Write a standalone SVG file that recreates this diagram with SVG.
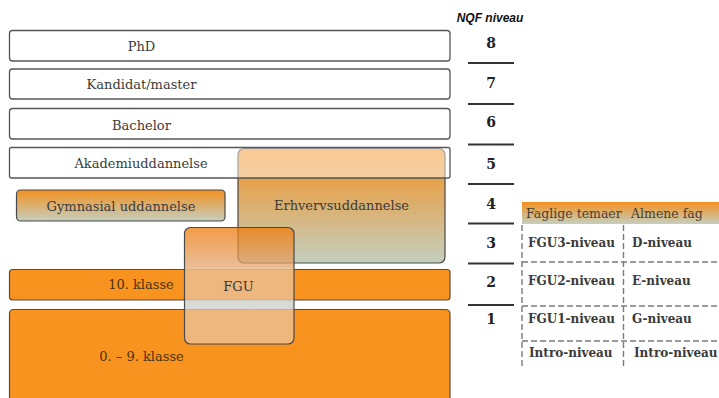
<svg xmlns="http://www.w3.org/2000/svg" width="719" height="398" viewBox="0 0 719 398">
<defs>
<style>
.lbl{font-family:"DejaVu Serif","Liberation Serif",serif;font-size:13px;fill:#3a3a3a;text-anchor:middle}
.lblo{font-family:"DejaVu Serif","Liberation Serif",serif;font-size:13px;fill:#4a3418;text-anchor:middle}
.wbox{fill:#ffffff;stroke:#555;stroke-width:1.3}
.obox{fill:#F7931E;stroke:#5a4a3a;stroke-width:1.2}
.gbox{fill:url(#og);stroke:#4a4a4a;stroke-width:1.2}
.num{font-family:"DejaVu Serif","Liberation Serif",serif;font-weight:bold;font-size:14px;fill:#222;text-anchor:middle}
.sep{stroke:#333;stroke-width:1.8}
.dash{stroke:#7a7a7a;stroke-width:1.4;stroke-dasharray:6 3;fill:none}
.tb{font-family:"DejaVu Serif","Liberation Serif",serif;font-weight:bold;font-size:12px;fill:#3a3a3a}
.th{font-family:"DejaVu Serif","Liberation Serif",serif;font-size:12.5px;fill:#4a4030}
</style>
<linearGradient id="og" x1="0" y1="0" x2="0" y2="1">
<stop offset="0" stop-color="#F39020"/>
<stop offset="1" stop-color="#C4CFBF"/>
</linearGradient>
<linearGradient id="fg" gradientUnits="userSpaceOnUse" x1="0" y1="227" x2="0" y2="344">
<stop offset="0" stop-color="#EE7A08" stop-opacity="0.75"/>
<stop offset="0.35" stop-color="#E1A56F" stop-opacity="0.72"/>
<stop offset="0.35" stop-color="#EBBD8E" stop-opacity="0.85"/>
<stop offset="0.624" stop-color="#EBBD8E" stop-opacity="0.85"/>
<stop offset="0.624" stop-color="#D2D3CE" stop-opacity="0.85"/>
<stop offset="0.70" stop-color="#D2D3CE" stop-opacity="0.85"/>
<stop offset="0.70" stop-color="#EBBD8E" stop-opacity="0.85"/>
<stop offset="1" stop-color="#EBBD8E" stop-opacity="0.85"/>
</linearGradient>
</defs>

<g id="phd"><rect class="wbox" x="9.5" y="30.5" width="440.5" height="30.5" rx="3"/><text class="lbl" x="141.5" y="51">PhD</text></g>
<g id="kandidat"><rect class="wbox" x="9.5" y="69" width="440.5" height="30" rx="3"/><text class="lbl" x="141.5" y="89">Kandidat/master</text></g>
<g id="bachelor"><rect class="wbox" x="9.5" y="108.5" width="440.5" height="30.5" rx="3"/><text class="lbl" x="141.5" y="130">Bachelor</text></g>

<g id="klasse10"><rect class="obox" x="9.5" y="269.5" width="440.5" height="30.5" rx="3"/><text class="lblo" x="141" y="289">10. klasse</text></g>
<g id="klasse09"><rect class="obox" x="9.5" y="309.5" width="440.5" height="100" rx="4"/><text class="lblo" x="141.5" y="361">0. – 9. klasse</text></g>

<g id="erhverv"><rect class="gbox" x="238" y="148.5" width="207" height="114.5" rx="6"/><text class="lbl" x="341.5" y="210">Erhvervsuddannelse</text></g>
<g id="akademi"><rect x="9.5" y="147.5" width="440.5" height="30.5" rx="2" fill="#ffffff" fill-opacity="0.5" stroke="#555" stroke-width="1.3"/><text class="lbl" x="141" y="168">Akademiuddannelse</text></g>
<g id="gymnasial"><rect class="gbox" x="16.5" y="190" width="208.5" height="31" rx="4"/><text class="lbl" x="121" y="211">Gymnasial uddannelse</text></g>

<g id="fgu"><rect x="184.5" y="227.5" width="109.5" height="116.5" rx="6" fill="url(#fg)" stroke="#4a4a4a" stroke-width="1.2"/><text class="lbl" x="238.5" y="291">FGU</text></g>

<g id="nqf">
<text x="490" y="22" font-family="Liberation Sans, Arial, sans-serif" font-size="12" font-weight="bold" font-style="italic" fill="#111" text-anchor="middle">NQF niveau</text>
<text class="num" x="491" y="48">8</text>
<text class="num" x="491" y="88">7</text>
<text class="num" x="491" y="127">6</text>
<text class="num" x="491" y="169">5</text>
<text class="num" x="491" y="209">4</text>
<text class="num" x="491" y="248">3</text>
<text class="num" x="491" y="287" font-size="12">2</text>
<text class="num" x="491" y="324" font-size="11">1</text>
</g>

<g id="connectors">
<line class="sep" x1="468" y1="63" x2="514" y2="63"/>
<line class="sep" x1="468" y1="104" x2="514" y2="104"/>
<line class="sep" x1="468" y1="144.5" x2="514" y2="144.5"/>
<line class="sep" x1="468" y1="184" x2="514" y2="184"/>
<line class="sep" x1="468" y1="223.5" x2="514" y2="223.5"/>
<line class="sep" x1="468" y1="263.5" x2="514" y2="263.5"/>
<line class="sep" x1="468" y1="305" x2="514" y2="305"/>
</g>

<g id="tabel">
<rect x="522" y="202" width="197" height="22" fill="url(#og)"/>
<text class="th" x="526" y="218">Faglige temaer</text>
<text class="th" x="631" y="218">Almene fag</text>
<line class="dash" x1="522" y1="225" x2="522" y2="368"/>
<line class="dash" x1="623.5" y1="225" x2="623.5" y2="368"/>
<line class="dash" x1="522" y1="262" x2="719" y2="262"/>
<line class="dash" x1="522" y1="306" x2="719" y2="306"/>
<line class="dash" x1="522" y1="341" x2="719" y2="341"/>
<text class="tb" x="528" y="247">FGU3-niveau</text>
<text class="tb" x="632" y="247">D-niveau</text>
<text class="tb" x="528" y="285">FGU2-niveau</text>
<text class="tb" x="632" y="285">E-niveau</text>
<text class="tb" x="528" y="323">FGU1-niveau</text>
<text class="tb" x="632" y="323">G-niveau</text>
<text class="tb" x="529" y="357">Intro-niveau</text>
<text class="tb" x="634" y="357">Intro-niveau</text>
</g>
</svg>
